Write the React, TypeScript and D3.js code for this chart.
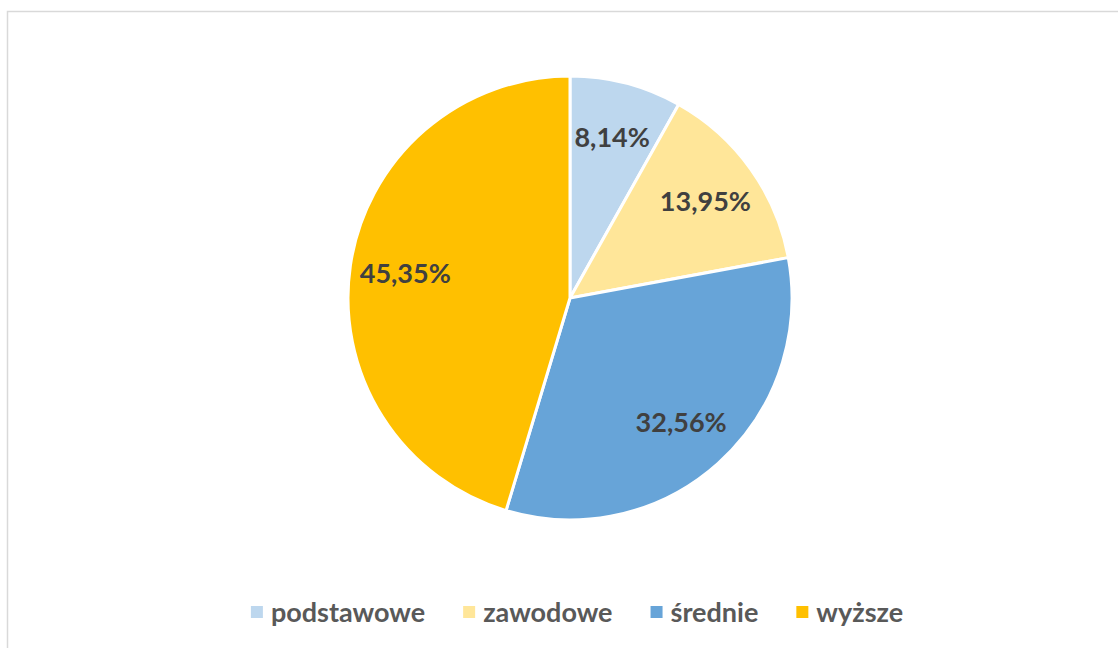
import * as React from 'react'
import { useEffect, useRef } from 'react'
import * as d3 from 'd3'

const categories = ['podstawowe', 'zawodowe', 'średnie', 'wyższe']
const shares = [8.14, 13.95, 32.56, 45.35]
const labels = ['8,14%', '13,95%', '32,56%', '45,35%']
const colors = ['#BDD7EE', '#FFE699', '#67A4D8', '#FFC000']

const width = 1118
const height = 648

const App = () => {
  const ref = useRef<SVGSVGElement | null>(null)

  useEffect(() => {
    const svg = d3.select(ref.current)
    svg.selectAll('*').remove()

    // chart frame, runs off the right / bottom edge
    svg.append('rect')
      .attr('x', 7.5).attr('y', 11.5)
      .attr('width', width).attr('height', height)
      .attr('fill', '#fff').attr('stroke', '#D9D9D9').attr('stroke-width', 1.5)

    const cx = 570
    const cy = 298
    const radius = 222

    const pie = d3.pie<number>().value(d => d).sort(null)
    const arc = d3.arc<d3.PieArcDatum<number>>().innerRadius(0).outerRadius(radius)
    const labelArc = d3.arc<d3.PieArcDatum<number>>().innerRadius(radius * 0.75).outerRadius(radius * 0.75)

    const g = svg.append('g').attr('transform', `translate(${cx}, ${cy})`)
    const arcs = pie(shares)

    g.selectAll('path')
      .data(arcs)
      .enter()
      .append('path')
      .attr('d', arc as any)
      .attr('fill', (d, i) => colors[i])
      .attr('stroke', '#fff')
      .attr('stroke-width', 3)
      .attr('stroke-linejoin', 'round')

    g.selectAll('text.lbl')
      .data(arcs)
      .enter()
      .append('text')
      .attr('class', 'lbl')
      .attr('transform', d => `translate(${labelArc.centroid(d)})`)
      .attr('text-anchor', 'middle')
      .attr('dy', '0.36em')
      .attr('font-family', 'Lato, sans-serif')
      .attr('font-weight', 'bold')
      .attr('font-size', 27)
      .attr('fill', '#404040')
      .text((d, i) => labels[i])

    // legend, centred below the pie
    const legend = svg.append('g')
    const items = legend.selectAll('g')
      .data(categories)
      .enter()
      .append('g')
    items.append('rect')
      .attr('width', 12).attr('height', 12)
      .attr('y', -6)
      .attr('fill', (d, i) => colors[i])
    const texts = items.append('text')
      .attr('x', 20)
      .attr('dy', '0.36em')
      .attr('font-family', 'Lato, sans-serif')
      .attr('font-weight', 'bold')
      .attr('font-size', 27)
      .attr('fill', '#595959')
      .text(d => d)

    const widths: number[] = []
    texts.each(function () { widths.push((this as SVGTextElement).getComputedTextLength()) })
    const gap = 38
    let x = 0
    const offsets: number[] = []
    widths.forEach(w => { offsets.push(x); x += 20 + w + gap })
    const total = x - gap
    items.attr('transform', (d, i) => `translate(${offsets[i]}, 0)`)
    legend.attr('transform', `translate(${577 - total / 2}, 612)`)
  }, [])

  return (
    <svg ref={ref} width={width} height={height}
      style={{ position: 'absolute', left: 0, top: 0 }} />
  )
}

export default App
